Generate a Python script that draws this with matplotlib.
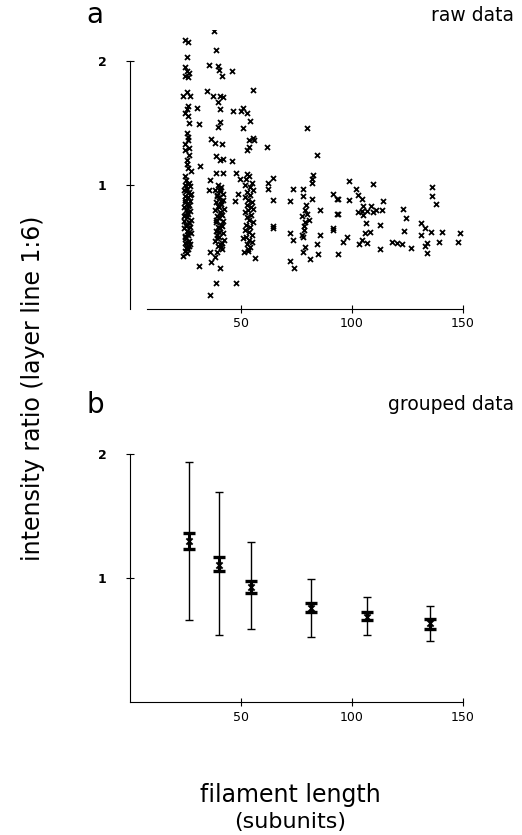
import matplotlib
matplotlib.use("Agg")
import matplotlib.pyplot as plt

# raw data (filament length, intensity ratio)
c25_x = [24.8, 26.0, 25.5, 25.0, 25.5, 26.5, 26.3, 25.0, 23.7, 27.0, 25.8, 25.5, 26.2, 26.0, 25.0, 26.8,
         25.5, 26.3, 26.0, 24.8, 25.0, 26.7, 26.5, 25.5, 25.8, 26.2, 27.3, 24.8,
         25.2, 26.8, 24.6, 27.1, 25.9, 24.3, 26.4, 27.5, 25.0, 26.1, 24.7, 27.2, 25.6, 26.6, 24.4, 25.3,
         27.0, 26.2, 24.9, 25.7, 27.3, 24.5, 26.5, 25.1, 26.9, 24.2, 25.8, 27.4, 26.0, 24.8, 25.4, 26.7,
         24.6, 27.1, 25.5, 26.3, 24.9, 25.9, 24.1,
         26.3, 25.1, 26.9, 24.8, 26.0, 25.6, 24.4, 26.4, 25.2, 26.8, 24.7, 25.9, 26.6, 25.3,
         30.3, 31.0, 31.5, 31.2]
c25_y = [2.17, 2.15, 2.03, 1.95, 1.92, 1.90, 1.87, 1.88, 1.72, 1.72, 1.75, 1.61, 1.64, 1.56, 1.58, 1.50,
         1.42, 1.39, 1.36, 1.28, 1.33, 1.24, 1.30, 1.20, 1.17, 1.14, 1.11, 1.07,
         1.04, 1.02, 1.00, 0.99, 0.97, 0.96, 0.94, 0.93, 0.91, 0.90, 0.88, 0.87, 0.85, 0.84, 0.82, 0.80,
         0.79, 0.77, 0.76, 0.74, 0.72, 0.71, 0.69, 0.68, 0.66, 0.65, 0.63, 0.61, 0.60, 0.58, 0.57, 0.55,
         0.53, 0.52, 0.50, 0.48, 0.47, 0.45, 0.43,
         1.01, 0.95, 0.92, 0.86, 0.83, 0.78, 0.75, 0.70, 0.67, 0.62, 0.59, 0.54, 0.51, 0.49,
         1.62, 1.49, 1.15, 0.35]

c40_x = [37.9, 38.7, 35.7, 39.8, 40.2, 41.3, 45.8, 34.8, 37.5, 40.5, 41.7, 39.8, 40.5, 46.5, 40.5, 39.8,
         36.3, 38.3, 41.3, 38.7, 40.5, 41.7, 45.8, 38.7, 41.7, 36.0, 35.7,
         39.5, 41.2, 38.4, 40.7, 42.1, 39.0, 40.2, 41.8, 38.8, 40.9, 39.6, 42.3, 38.2, 40.4, 41.5, 39.3,
         40.0, 42.0, 38.6, 41.1, 39.8, 40.6, 38.9, 41.9, 39.2, 40.3, 42.2, 38.5, 41.4, 39.7, 40.8, 41.6,
         39.1,
         40.5, 39.2, 41.0, 39.9, 40.8, 38.9, 41.3, 40.1, 39.4, 40.7,
         36.0, 38.3, 36.3, 40.5, 38.6, 47.6, 36.0]
c40_y = [2.24, 2.09, 1.97, 1.96, 1.93, 1.88, 1.92, 1.76, 1.72, 1.72, 1.71, 1.67, 1.61, 1.60, 1.51, 1.47,
         1.37, 1.34, 1.33, 1.23, 1.20, 1.21, 1.19, 1.10, 1.10, 1.04, 0.96,
         1.00, 0.98, 0.96, 0.95, 0.93, 0.91, 0.90, 0.88, 0.86, 0.85, 0.83, 0.81, 0.80, 0.78, 0.76, 0.75,
         0.73, 0.71, 0.70, 0.68, 0.66, 0.65, 0.63, 0.61, 0.60, 0.58, 0.56, 0.55, 0.53, 0.51, 0.50, 0.48,
         0.46,
         0.97, 0.92, 0.87, 0.82, 0.77, 0.72, 0.67, 0.62, 0.57, 0.52,
         0.46, 0.42, 0.38, 0.33, 0.21, 0.21, 0.11]

c53_x = [55.3, 49.8, 50.8, 52.6, 54.0, 51.0, 53.7, 55.5, 52.6, 53.8, 55.9, 47.7, 52.5, 49.5, 47.3, 48.5,
         53.5, 52.2, 54.8, 51.6, 53.9, 55.2, 52.7, 54.1, 51.9, 53.3, 55.0, 52.5, 54.4, 53.0, 51.8, 54.7,
         52.9, 53.8, 55.3, 52.3, 54.2, 51.7, 53.6, 54.9, 52.1, 53.4, 55.1, 52.6, 54.0, 53.1,
         51.0, 53.3, 56.3, 51.3, 55.6]
c53_y = [1.77, 1.60, 1.62, 1.58, 1.52, 1.46, 1.36, 1.38, 1.28, 1.31, 1.36, 1.10, 1.09, 1.05, 0.87, 0.93,
         1.07, 1.05, 1.02, 1.00, 0.98, 0.96, 0.94, 0.92, 0.90, 0.88, 0.86, 0.84, 0.82, 0.80, 0.78, 0.76,
         0.74, 0.72, 0.70, 0.68, 0.66, 0.64, 0.62, 0.60, 0.58, 0.56, 0.54, 0.52, 0.50, 0.48,
         0.57, 0.47, 0.41, 0.46, 0.81]

c65_x = [61.6, 62.0, 64.3, 62.3, 64.3, 64.3, 64.6]
c65_y = [1.31, 1.02, 1.06, 0.97, 0.88, 0.65, 0.67]

c80_x = [79.6, 84.1, 73.6, 72.1, 77.8, 81.8, 81.8, 82.3, 81.8, 78.1, 78.8, 79.3, 85.6, 77.3, 78.8,
         78.4, 78.4, 85.6, 84.1, 81.1, 84.5, 77.8, 78.8, 78.1, 73.6, 72.1, 72.1, 73.9, 77.3, 80.5, 79.8]
c80_y = [1.46, 1.24, 0.97, 0.87, 0.97, 1.02, 1.05, 1.08, 0.89, 0.91, 0.80, 0.84, 0.80, 0.75, 0.70,
         0.64, 0.67, 0.60, 0.52, 0.40, 0.44, 0.46, 0.50, 0.58, 0.56, 0.61, 0.39, 0.33, 0.60, 0.72, 0.77]

c105_x = [91.3, 93.5, 93.5, 91.3, 93.8, 98.6, 109.3, 93.4, 98.6, 101.8, 102.9, 104.6, 114.1, 105.1,
          108.4, 102.9, 105.1, 106.6, 109.6, 113.4, 104.4, 111.0, 106.3, 112.6, 91.3, 105.9, 108.1,
          97.6, 96.1, 104.4, 106.6, 103.3, 112.6, 93.4]
c105_y = [0.93, 0.89, 0.77, 0.65, 0.44, 1.03, 1.01, 0.89, 0.88, 0.97, 0.92, 0.89, 0.87, 0.83,
          0.83, 0.78, 0.76, 0.79, 0.78, 0.80, 0.79, 0.80, 0.69, 0.68, 0.64, 0.61, 0.62,
          0.58, 0.54, 0.56, 0.53, 0.52, 0.48, 0.77]

c135_x = [123.1, 124.3, 123.3, 117.9, 120.1, 122.4, 126.6, 130.9, 131.1, 132.9, 135.4, 136.2, 136.2,
          137.7, 133.6, 132.9, 133.9, 139.3, 140.4, 148.6, 147.9]
c135_y = [0.81, 0.73, 0.63, 0.54, 0.53, 0.52, 0.49, 0.69, 0.60, 0.65, 0.62, 0.98, 0.91,
          0.85, 0.53, 0.51, 0.45, 0.54, 0.62, 0.61, 0.54]

raw_len = c25_x + c40_x + c53_x + c65_x + c80_x + c105_x + c135_x
raw_ratio = c25_y + c40_y + c53_y + c65_y + c80_y + c105_y + c135_y

# grouped data
group_len = [26.6, 40.2, 54.5, 81.4, 106.9, 135.1]
group_mean = [1.30, 1.11, 0.93, 0.76, 0.69, 0.64]
range_top = [1.94, 1.70, 1.29, 0.995, 0.845, 0.773]
range_bot = [0.66, 0.54, 0.59, 0.525, 0.54, 0.49]
se_top = [1.365, 1.17, 0.98, 0.80, 0.73, 0.675]
se_bot = [1.24, 1.06, 0.885, 0.73, 0.665, 0.59]

plt.rcParams['font.family'] = ['DejaVu Sans']

fig = plt.figure(figsize=(5.22, 8.35), dpi=100)
ax1 = fig.add_axes([0.249, 0.630, 0.638, 0.334])
ax2 = fig.add_axes([0.249, 0.159, 0.638, 0.334])


def style_axes(ax, xstart):
    ax.set_xlim(0, 150)
    ax.set_ylim(0, 2.25)
    for s in ['top', 'right']:
        ax.spines[s].set_visible(False)
    ax.spines['left'].set_bounds(0, 2)
    ax.spines['bottom'].set_bounds(xstart, 150)
    for s in ['left', 'bottom']:
        ax.spines[s].set_linewidth(0.8)
    ax.set_xticks([50, 100, 150])
    ax.set_yticks([1, 2])
    ax.set_yticklabels(['1', '2'])
    ax.tick_params(axis='x', direction='inout', length=6, width=0.8, labelsize=9, pad=3)
    ax.tick_params(axis='y', direction='inout', length=6, width=0.8, labelsize=9, pad=14)
    for lab in ax.get_yticklabels():
        lab.set_fontweight('bold')


ax1.scatter(raw_len, raw_ratio, marker='x', s=13, c='black', linewidths=1.3)
style_axes(ax1, 7.6)

ax2.errorbar(group_len, group_mean,
             yerr=[[m - b for m, b in zip(group_mean, range_bot)],
                   [t - m for m, t in zip(group_mean, range_top)]],
             fmt='none', ecolor='black', elinewidth=1.0, capsize=3, capthick=1.0)
ax2.errorbar(group_len, group_mean,
             yerr=[[m - b for m, b in zip(group_mean, se_bot)],
                   [t - m for m, t in zip(group_mean, se_top)]],
             fmt='none', ecolor='black', elinewidth=2.2, capsize=4.5, capthick=2.4)
ax2.scatter(group_len, group_mean, marker='x', s=20, c='black', linewidths=1.4, zorder=3)
style_axes(ax2, 0)

fig.text(0.165, 0.982, 'a', fontsize=20, va='center', ha='left')
fig.text(0.985, 0.982, 'raw data', fontsize=13.5, va='center', ha='right')
fig.text(0.165, 0.515, 'b', fontsize=20, va='center', ha='left')
fig.text(0.985, 0.515, 'grouped data', fontsize=13.5, va='center', ha='right')
fig.text(0.063, 0.535, 'intensity ratio (layer line 1:6)', fontsize=17, rotation=90,
         va='center', ha='center')
fig.text(0.556, 0.048, 'filament length', fontsize=17, va='center', ha='center')
fig.text(0.556, 0.016, '(subunits)', fontsize=16, va='center', ha='center')

fig.savefig('out.png', dpi=100)
